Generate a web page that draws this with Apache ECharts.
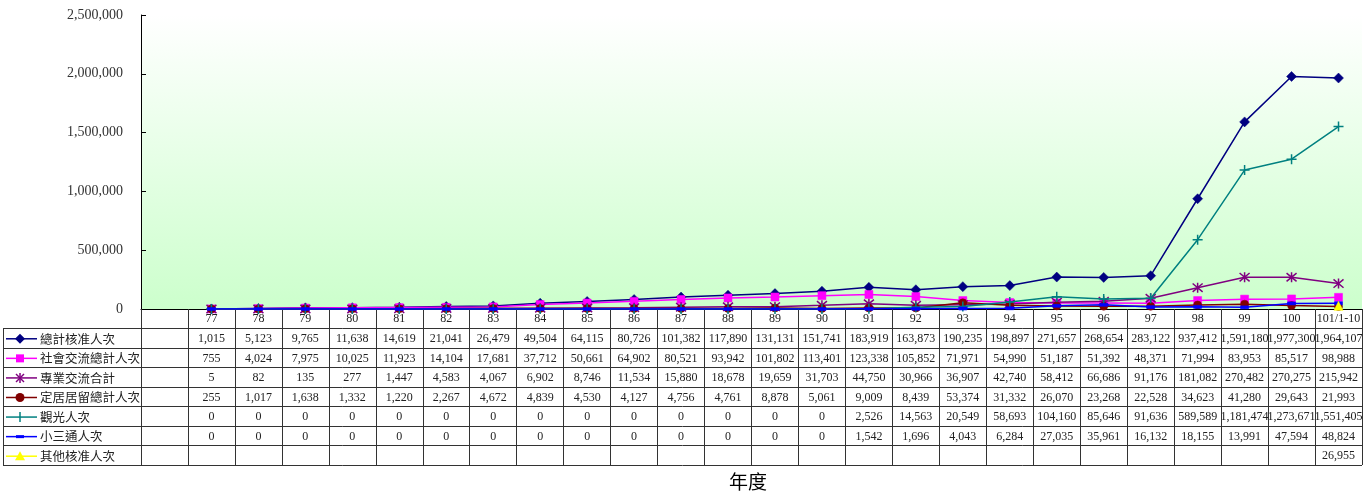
<!DOCTYPE html>
<html><head><meta charset="utf-8">
<script src="https://cdn.jsdelivr.net/npm/echarts@6/dist/echarts.min.js"></script>
<style>html,body{margin:0;padding:0;background:#fff}#c{width:1372px;height:493px}</style>
</head><body><div id="c"></div>
<script>
const categories = ['', '77','78','79','80','81','82','83','84','85','86','87','88','89','90','91','92','93','94','95','96','97','98','99','100','101/1-10'];
const seriesNames = ['總計核准人次','社會交流總計人次','專業交流合計','定居居留總計人次','觀光人次','小三通人次','其他核准人次'];
const totalVals = [null,1015,5123,9765,11638,14619,21041,26479,49504,64115,80726,101382,117890,131131,151741,183919,163873,190235,198897,271657,268654,283122,937412,1591180,1977300,1964107];
const socialVals = [null,755,4024,7975,10025,11923,14104,17681,37712,50661,64902,80521,93942,101802,113401,123338,105852,71971,54990,51187,51392,48371,71994,83953,85517,98988];
const profVals = [null,5,82,135,277,1447,4583,4067,6902,8746,11534,15880,18678,19659,31703,44750,30966,36907,42740,58412,66686,91176,181082,270482,270275,215942];
const settleVals = [null,255,1017,1638,1332,1220,2267,4672,4839,4530,4127,4756,4761,8878,5061,9009,8439,53374,31332,26070,23268,22528,34623,41280,29643,21993];
const tourVals = [null,0,0,0,0,0,0,0,0,0,0,0,0,0,0,2526,14563,20549,58693,104160,85646,91636,589589,1181474,1273671,1551405];
const mini3Vals = [null,0,0,0,0,0,0,0,0,0,0,0,0,0,0,1542,1696,4043,6284,27035,35961,16132,18155,13991,47594,48824];
const otherVals = [null,null,null,null,null,null,null,null,null,null,null,null,null,null,null,null,null,null,null,null,null,null,null,null,null,26955];
const yTicks = {min:0, max:2500000, interval:500000};

const colors = ['#000080','#FF00FF','#800080','#800000','#008080','#0000FF','#FFFF00'];
const ASTER = 'path://M0,0L10,10M10,0L0,10M5,-1L5,11';
const PLUS = 'path://M5,0L5,10M0,5L10,5';
const symbols = ['diamond','rect',ASTER,'circle',PLUS,'rect','triangle'];
const symSizes = [10,8,10,8,10,[8,3],9];
const allVals = [totalVals,socialVals,profVals,settleVals,tourVals,mini3Vals,otherVals];

const chart = echarts.init(document.getElementById('c'));
const LEFT=141, RIGHT=10, TOP=15, BOTTOM=184;
const series = allVals.map((d,i)=>{
  const open = (i===2||i===4);
  return {
    name: seriesNames[i], type:'line', data:d, connectNulls:false,
    symbol: symbols[i], symbolSize: symSizes[i], showSymbol:true,
    lineStyle:{color:colors[i], width:1.5},
    itemStyle: open ? {color:'rgba(0,0,0,0)', borderColor:colors[i], borderWidth:1.5}
                    : {color:colors[i], borderColor:colors[i], borderWidth:0.5},
    emphasis:{disabled:true}, animation:false, z: 2+i
  };
});
chart.setOption({
  animation:false,
  grid:{left:LEFT,right:RIGHT,top:TOP,bottom:BOTTOM,show:true,borderWidth:0,
    backgroundColor:{type:'linear',x:0,y:0,x2:0,y2:1,colorStops:[{offset:0,color:'#ffffff'},{offset:1,color:'#ccffcc'}]}},
  xAxis:{type:'category',data:categories,boundaryGap:true,
    axisLine:{lineStyle:{color:'#000',width:1}},
    axisTick:{show:true,interval:0,length:156,lineStyle:{color:'#333',width:1}},
    axisLabel:{interval:0,margin:4,fontFamily:'Liberation Serif',fontSize:12,color:'#222'},
    splitLine:{show:false}},
  yAxis:{type:'value',min:yTicks.min,max:yTicks.max,interval:yTicks.interval,
    axisLine:{show:true,lineStyle:{color:'#000',width:1}},
    axisTick:{show:true,inside:true,length:5,lineStyle:{color:'#000'}},
    splitLine:{show:false},
    axisLabel:{margin:18,fontFamily:'Liberation Serif',fontSize:14,color:'#333',
      formatter:v=>v.toLocaleString('en-US')}},
  series: series
});

// data table
const g = [];
const rowTop = 328, rowH = 19.57, nRows = 7;
const xRight = 1372-RIGHT;
const lineC = '#333';
for (let r=0;r<=nRows;r++){
  const y = Math.round(rowTop + r*rowH)+0.5;
  g.push({type:'line',shape:{x1:3,y1:y,x2:xRight,y2:y},style:{stroke:lineC,lineWidth:1},silent:true});
}
g.push({type:'line',shape:{x1:3.5,y1:rowTop,x2:3.5,y2:Math.round(rowTop+nRows*rowH)+0.5},style:{stroke:lineC,lineWidth:1},silent:true});
for (let r=0;r<nRows;r++){
  const cy = rowTop + (r+0.5)*rowH + 1;
  const c = colors[r];
  g.push({type:'line',shape:{x1:6,y1:cy,x2:37,y2:cy},style:{stroke:c,lineWidth:1.5},silent:true});
  const mx = 20;
  if (r===0) g.push({type:'polygon',shape:{points:[[mx,cy-5],[mx+5,cy],[mx,cy+5],[mx-5,cy]]},style:{fill:c},silent:true});
  if (r===1) g.push({type:'rect',shape:{x:mx-4,y:cy-4,width:8,height:8},style:{fill:c},silent:true});
  if (r===2) g.push({type:'polyline',shape:{points:[[mx-4,cy-4],[mx+4,cy+4]]},style:{stroke:c,lineWidth:1.5},silent:true},
                    {type:'polyline',shape:{points:[[mx+4,cy-4],[mx-4,cy+4]]},style:{stroke:c,lineWidth:1.5},silent:true},
                    {type:'polyline',shape:{points:[[mx,cy-5],[mx,cy+5]]},style:{stroke:c,lineWidth:1.5},silent:true});
  if (r===3) g.push({type:'circle',shape:{cx:mx,cy:cy,r:4.5},style:{fill:c},silent:true});
  if (r===4) g.push({type:'polyline',shape:{points:[[mx,cy-5],[mx,cy+5]]},style:{stroke:c,lineWidth:1.5},silent:true});
  if (r===5) g.push({type:'rect',shape:{x:mx-4,y:cy-1.5,width:8,height:3},style:{fill:c},silent:true});
  if (r===6) g.push({type:'polygon',shape:{points:[[mx,cy-5],[mx+5,cy+4],[mx-5,cy+4]]},style:{fill:c},silent:true});
  g.push({type:'text',x:40,y:cy,style:{text:seriesNames[r],fontFamily:'Noto Sans CJK TC',fontSize:12.5,fill:'#222',verticalAlign:'middle',align:'left'},silent:true});
  const vals = allVals[r];
  for (let i=1;i<categories.length;i++){
    if (vals[i]==null) continue;
    const px = chart.convertToPixel({xAxisIndex:0}, categories[i]);
    g.push({type:'text',x:px,y:cy,style:{text:vals[i].toLocaleString('en-US'),fontFamily:'Liberation Serif',fontSize:12,fill:'#222',align:'center',verticalAlign:'middle'},silent:true});
  }
}
g.push({type:'text',x:748,y:482,style:{text:'年度',fontFamily:'Noto Sans CJK TC',fontSize:19,fill:'#000',align:'center',verticalAlign:'middle'},silent:true});
chart.setOption({graphic:g});
</script>
</body></html>
